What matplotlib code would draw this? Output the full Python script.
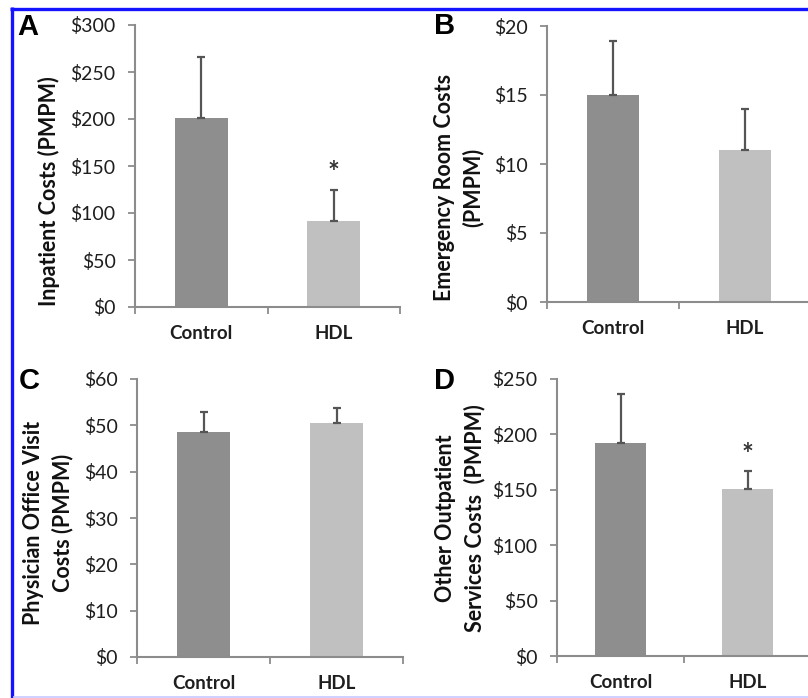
import numpy as np
import matplotlib
matplotlib.use("Agg")
import matplotlib.pyplot as plt
from matplotlib.lines import Line2D

# datos
groups = ["Control", "HDL"]
inpatient = [201, 91]
inpatient_err = [65, 33]
er = [15.0, 11.0]
er_err = [3.9, 3.0]
office = [48.6, 50.6]
office_err = [4.2, 3.1]
outpatient = [192.5, 151]
outpatient_err = [44, 16]

W, H = 808, 698
plt.rcParams['font.family'] = ['Lato', 'DejaVu Sans']

fig = plt.figure(figsize=(W / 100, H / 100), dpi=100)

def fx(px):
    return px / W

def fy(py):
    return 1 - py / H

def axes_px(left, top, right, bottom):
    return fig.add_axes([fx(left), fy(bottom), fx(right - left), (bottom - top) / H])

bar_colors = ["#8e8e8e", "#c0c0c0"]
axis_color = "#8c8c8c"

def panel(ax, vals, errs, ymax, step, star=None):
    x = np.arange(len(groups))
    ax.bar(x, vals, width=0.4, color=bar_colors, zorder=2)
    ax.errorbar(x, vals, yerr=[np.zeros(len(errs)), errs], fmt='none',
                ecolor="#555555", elinewidth=1.6, capsize=3, capthick=1.6, zorder=3)
    ax.set_xlim(-0.5, 1.5)
    ax.set_ylim(0, ymax)
    ticks = np.arange(0, ymax + step / 2, step)
    ax.set_yticks(ticks)
    ax.set_yticklabels(["$%d" % v for v in ticks], fontsize=14, color="#1e1e1e")
    ax.set_xticks([-0.5, 0.5, 1.5])
    ax.set_xticklabels([])
    ax.set_xticks(x, minor=True)
    ax.set_xticklabels(groups, minor=True, fontsize=13.5, fontweight='bold', color="#1e1e1e")
    ax.tick_params(axis='x', which='minor', length=0, pad=13)
    ax.tick_params(axis='x', which='major', length=5, width=1.3, color=axis_color)
    ax.tick_params(axis='y', length=5, width=1.3, color=axis_color, pad=9)
    for s in ['top', 'right']:
        ax.spines[s].set_visible(False)
    for s in ['left', 'bottom']:
        ax.spines[s].set_color(axis_color)
        ax.spines[s].set_linewidth(1.5)
    ax.patch.set_alpha(0)
    if star is not None:
        ax.text(1, star, "*", ha='center', va='center', fontsize=20,
                fontweight='bold', color="#333333")

axA = axes_px(135, 25, 400, 307)
panel(axA, inpatient, inpatient_err, 300, 50, star=143)
axB = axes_px(547, 26, 811, 302)
panel(axB, er, er_err, 20, 5)
axC = axes_px(137, 379, 403, 657)
panel(axC, office, office_err, 60, 10)
axD = axes_px(557, 379, 811, 656)
panel(axD, outpatient, outpatient_err, 250, 50, star=181)

# etiquetas y
lab = dict(ha='center', va='center', rotation=90, fontsize=15.5, fontweight='bold',
           color="#111111", linespacing=1.4)
fig.text(fx(49), fy(191), "Inpatient Costs (PMPM)", **lab)
fig.text(fx(459), fy(187), "Emergency Room Costs\n(PMPM)", **lab)
fig.text(fx(48), fy(523), "Physician Office Visit\nCosts (PMPM)", **lab)
fig.text(fx(460), fy(518), "Other Outpatient\nServices Costs  (PMPM)", **lab)

# letras de los paneles
let = dict(ha='left', va='top', fontsize=21, fontweight='bold',
           family='Liberation Sans', color="black")
fig.text(fx(17), fy(13), "A", **let)
fig.text(fx(434), fy(12), "B", **let)
fig.text(fx(19), fy(367), "C", **let)
fig.text(fx(434), fy(367), "D", **let)

# borde azul
fig.add_artist(Line2D([fx(10), 1], [fy(8.5), fy(8.5)], color="#1414ff", lw=2.4,
                      transform=fig.transFigure, solid_capstyle='butt'))
fig.add_artist(Line2D([fx(11.5), fx(11.5)], [fy(7), 0], color="#1414ff", lw=2.4,
                      transform=fig.transFigure, solid_capstyle='butt'))
fig.add_artist(Line2D([fx(13), 1], [fy(697.3), fy(697.3)], color="#c8c8ff", lw=1.2,
                      transform=fig.transFigure, solid_capstyle='butt'))

fig.savefig("out.png", dpi=100)
